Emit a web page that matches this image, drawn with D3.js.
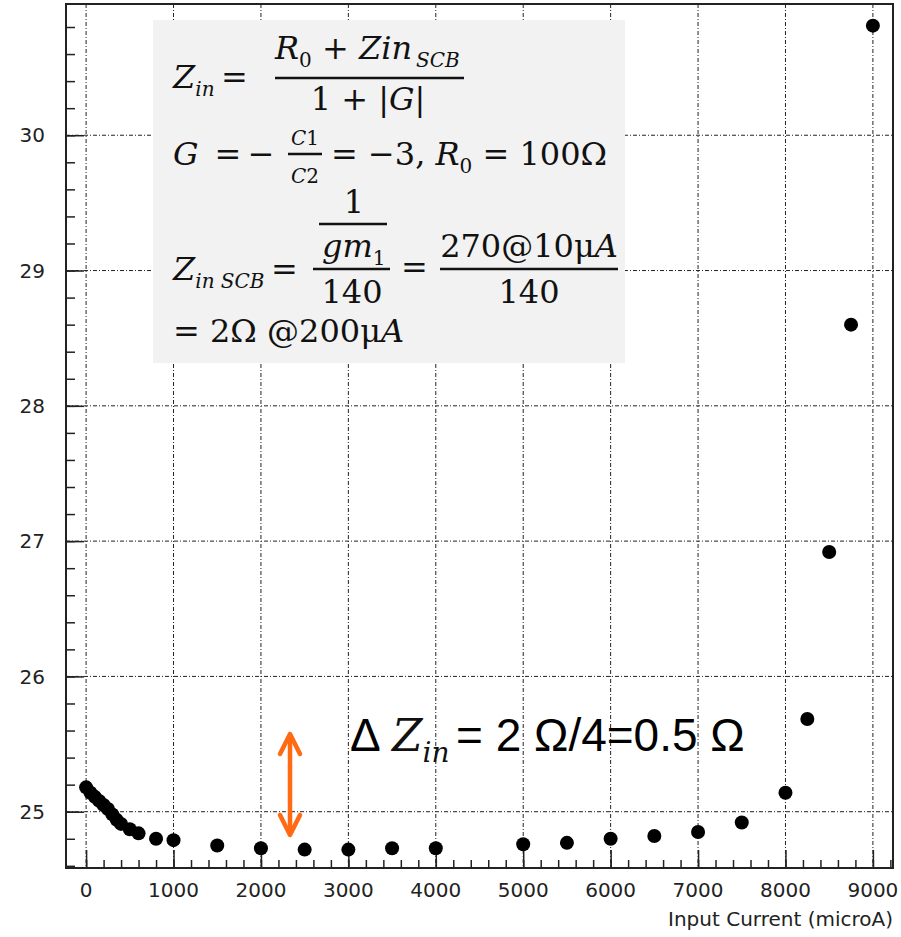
<!DOCTYPE html>
<html>
<head>
<meta charset="utf-8">
<script src="https://cdn.jsdelivr.net/npm/d3@7"></script>
<style>
  body { margin: 0; background: #fff; }
  .tick-label { font-family: "DejaVu Sans", sans-serif; font-size: 20px; fill: #222; }
  .eq { font-family: "DejaVu Serif", serif; fill: #111; }
  .ann { font-family: "Liberation Sans", Arial, sans-serif; fill: #000; }
</style>
</head>
<body>
<div id="chart"></div>
<script>

// measured input current (microA) and input impedance (Ohm)
var currents = [0, 50, 100, 150, 200, 250, 300, 350, 400, 500, 600, 800, 1000,
                1500, 2000, 2500, 3000, 3500, 4000, 5000, 5500, 6000, 6500,
                7000, 7500, 8000, 8250, 8500, 8750, 9000];
var zin = [25.18, 25.14, 25.11, 25.08, 25.05, 25.02, 24.98, 24.94, 24.91, 24.87, 24.84, 24.80, 24.79,
           24.75, 24.73, 24.72, 24.72, 24.73, 24.73, 24.76, 24.77, 24.80, 24.82,
           24.85, 24.92, 25.14, 25.685, 26.92, 28.60, 30.81];

var xTicks = [0, 1000, 2000, 3000, 4000, 5000, 6000, 7000, 8000, 9000];
var yTicks = [25, 26, 27, 28, 29, 30];
var xDomain = [-230, 9230];
var yDomain = [24.584, 30.97];
var xTitle = "Input Current (microA)";

var width = 901, height = 937;
var margin = { top: 4, right: 8, bottom: 69, left: 66 };
var plotW = width - margin.left - margin.right;
var plotH = height - margin.top - margin.bottom;

var svg = d3.select("#chart").append("svg")
    .attr("width", width)
    .attr("height", height);

var g = svg.append("g")
    .attr("transform", "translate(" + margin.left + "," + margin.top + ")");

var x = d3.scaleLinear().domain(xDomain).range([0, plotW]);
var y = d3.scaleLinear().domain(yDomain).range([plotH, 0]);

// grid
g.selectAll(".vgrid").data(xTicks).enter().append("line")
    .attr("class", "vgrid")
    .attr("x1", function(d) { return x(d); })
    .attr("x2", function(d) { return x(d); })
    .attr("y1", 0).attr("y2", plotH)
    .attr("stroke", "#222").attr("stroke-width", 1)
    .attr("stroke-dasharray", "4,2,1,2");

g.selectAll(".hgrid").data(yTicks).enter().append("line")
    .attr("class", "hgrid")
    .attr("y1", function(d) { return y(d); })
    .attr("y2", function(d) { return y(d); })
    .attr("x1", 0).attr("x2", plotW)
    .attr("stroke", "#222").attr("stroke-width", 1)
    .attr("stroke-dasharray", "4,2,1,2");

// axes with inward ticks (ROOT style)
var xMinor = d3.range(0, xDomain[1], 200);
var yMinor = d3.range(24.6, yDomain[1], 0.2);

function styleAxis(a) {
  a.select(".domain").remove();
  a.selectAll("line").attr("stroke", "#222").attr("stroke-width", 1.5);
}

g.append("g").attr("transform", "translate(0," + plotH + ")")
    .call(d3.axisTop(x).tickValues(xMinor).tickSize(8).tickFormat(""))
    .call(styleAxis);
g.append("g").attr("transform", "translate(0," + plotH + ")")
    .call(d3.axisTop(x).tickValues(xTicks).tickSize(18).tickFormat(""))
    .call(styleAxis);

g.append("g")
    .call(d3.axisRight(y).tickValues(yMinor).tickSize(9).tickFormat(""))
    .call(styleAxis);
g.append("g")
    .call(d3.axisRight(y).tickValues(yTicks).tickSize(18).tickFormat(""))
    .call(styleAxis);

// tick labels
g.selectAll(".xlab").data(xTicks).enter().append("text")
    .attr("class", "tick-label")
    .attr("x", function(d) { return x(d); })
    .attr("y", plotH + 29)
    .attr("text-anchor", "middle")
    .text(function(d) { return d; });

g.selectAll(".ylab").data(yTicks).enter().append("text")
    .attr("class", "tick-label")
    .attr("x", -21)
    .attr("y", function(d) { return y(d); })
    .attr("dy", "0.36em")
    .attr("text-anchor", "end")
    .text(function(d) { return d; });

g.append("text")
    .attr("class", "tick-label")
    .attr("x", plotW)
    .attr("y", plotH + 58)
    .attr("text-anchor", "end")
    .text(xTitle);

// frame
g.append("rect")
    .attr("width", plotW).attr("height", plotH)
    .attr("fill", "none").attr("stroke", "#222").attr("stroke-width", 2);

// data points
g.selectAll(".dot").data(currents).enter().append("circle")
    .attr("class", "dot")
    .attr("cx", function(d) { return x(d); })
    .attr("cy", function(d, i) { return y(zin[i]); })
    .attr("r", 7)
    .attr("fill", "#000");

// formula box
var eq = svg.append("g");
eq.append("rect")
    .attr("x", 153).attr("y", 20).attr("width", 472).attr("height", 343)
    .attr("fill", "#f2f2f2");

// parts: [text, italic, subscript]
function put(px, py, parts, size, anchor, parent, cls) {
  var t = (parent || eq).append("text").attr("class", cls || "eq")
      .attr("x", px).attr("y", py)
      .attr("font-size", size)
      .attr("text-anchor", anchor || "start");
  var shift = 0;
  parts.forEach(function(p) {
    var want = p[2] ? Math.round(size * 0.25) : 0;
    t.append("tspan")
      .attr("font-style", p[1] ? "italic" : "normal")
      .attr("font-size", p[2] ? Math.round(size * 0.64) : size)
      .attr("dy", want - shift)
      .text(p[0]);
    shift = want;
  });
  return t;
}
function bar(x1, x2, yy) {
  eq.append("line").attr("x1", x1).attr("x2", x2).attr("y1", yy).attr("y2", yy)
    .attr("stroke", "#111").attr("stroke-width", 2.5);
}

// line 1
put(173, 88, [["Z", 1], ["in", 1, 1], ["\u2009=", 0]], 32);
put(275, 59, [["R", 1], ["0", 0, 1], [" + ", 0], ["Zin", 1], ["\u2009SCB", 1, 1]], 32);
bar(275, 464, 78);
put(368, 110, [["1 + |", 0], ["G", 1], ["|", 0]], 32, "middle");

// line 2
put(173, 165, [["G", 1], ["\u2002=\u2009\u2212", 0]], 32);
put(305, 145, [["C", 1], ["1", 0]], 20, "middle");
bar(288, 322, 154);
put(305, 183, [["C", 1], ["2", 0]], 20, "middle");
put(331, 165, [["= \u22123, ", 0], ["R", 1], ["0", 0, 1], [" = 100\u03a9", 0]], 32);

// line 3
put(173, 280, [["Z", 1], ["in SCB", 1, 1], ["\u2009=", 0]], 32);
put(354, 213, [["1", 0]], 32, "middle");
bar(319, 387, 224);
put(322, 257, [["gm", 1], ["1", 0, 1]], 32);
bar(313, 390, 269);
put(352, 303, [["140", 0]], 32, "middle");
put(401, 278, [["=", 0]], 32);
put(529, 257, [["270@10\u03bc", 0], ["A", 1]], 32, "middle");
bar(440, 618, 269);
put(529, 303, [["140", 0]], 32, "middle");

// line 4
put(173, 342, [["= 2\u03a9 @200\u03bc", 0], ["A", 1]], 32);

// delta annotation
svg.append("text").attr("class", "ann").attr("x", 350).attr("y", 751)
    .attr("font-size", 46).text("\u0394");
put(392, 751, [["Z", 1], ["in", 1, 1]], 44, "start", svg);
svg.append("text").attr("class", "ann").attr("x", 456).attr("y", 751)
    .attr("font-size", 46).text("= 2 \u03a9/4=0.5 \u03a9");

// orange double arrow
var ax = 290, aTop = 734, aBot = 835;
var arrow = svg.append("g").attr("stroke", "#ff6a13").attr("stroke-width", 4.5)
    .attr("fill", "none").attr("stroke-linecap", "round").attr("stroke-linejoin", "round");
arrow.append("line").attr("x1", ax).attr("x2", ax).attr("y1", aTop + 2).attr("y2", aBot - 2);
arrow.append("polyline").attr("points", [[ax - 10, aTop + 20], [ax, aTop], [ax + 10, aTop + 20]].join(" "));
arrow.append("polyline").attr("points", [[ax - 10, aBot - 20], [ax, aBot], [ax + 10, aBot - 20]].join(" "));

</script>
</body>
</html>
